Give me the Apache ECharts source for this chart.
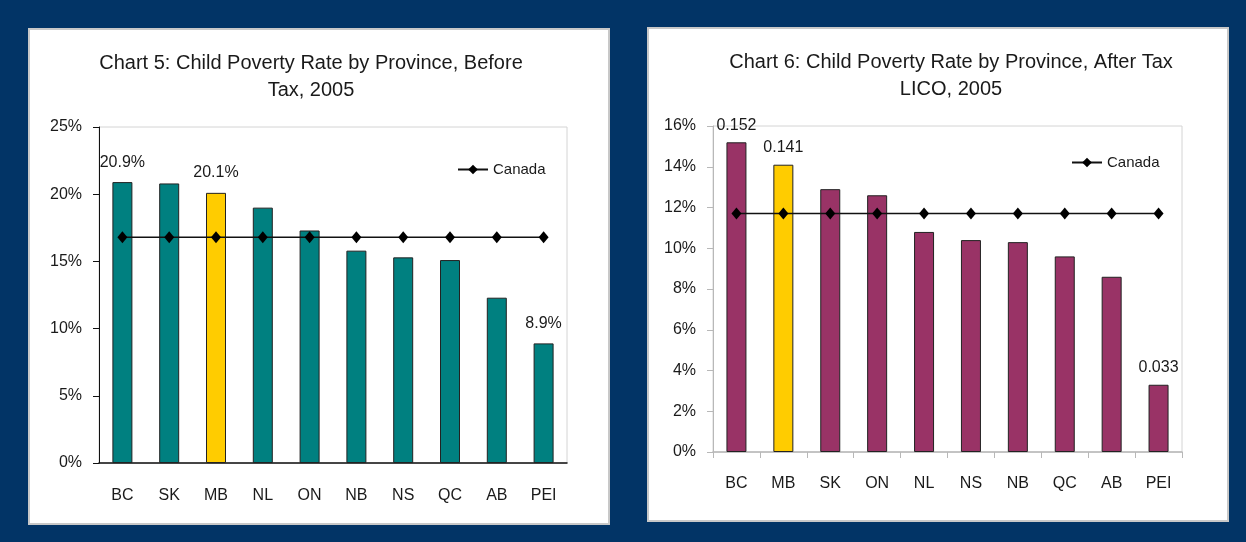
<!DOCTYPE html>
<html>
<head>
<meta charset="utf-8">
<script src="https://cdn.jsdelivr.net/npm/echarts@6/dist/echarts.min.js"></script>
<style>
html, body { margin: 0; padding: 0; width: 1246px; height: 542px; background: #023466; overflow: hidden; }
.panel { position: absolute; background: #fff; box-shadow: inset 0 0 0 2px #c8c8c8; }
.chart { position: absolute; left: 0; top: 0; width: 100%; height: 100%; }
</style>
</head>
<body>
<div class="panel" style="left:28px;top:28px;width:582px;height:497px;"><div class="chart" id="chart5"></div></div>
<div class="panel" style="left:647px;top:27px;width:582px;height:495px;"><div class="chart" id="chart6"></div></div>
<script>
// Chart 5 - before tax
var provBefore = ["BC", "SK", "MB", "NL", "ON", "NB", "NS", "QC", "AB", "PEI"];
var rateBefore = [20.9, 20.8, 20.1, 19.0, 17.3, 15.8, 15.3, 15.1, 12.3, 8.9];
var canadaBefore = [16.8, 16.8, 16.8, 16.8, 16.8, 16.8, 16.8, 16.8, 16.8, 16.8];
var labeledBefore = ["BC", "MB", "PEI"];

// Chart 6 - after tax LICO
var provAfter = ["BC", "MB", "SK", "ON", "NL", "NS", "NB", "QC", "AB", "PEI"];
var rateAfter = [15.2, 14.1, 12.9, 12.6, 10.8, 10.4, 10.3, 9.6, 8.6, 3.3];
var canadaAfter = [11.7, 11.7, 11.7, 11.7, 11.7, 11.7, 11.7, 11.7, 11.7, 11.7];
var labeledAfter = ["BC", "MB", "PEI"];

var FONT = "Arial, 'Liberation Sans', sans-serif";
var TXT = "#1a1a1a";

function makeOption(c) {
    var barData = c.rates.map(function (v, i) {
        var p = c.provs[i];
        return {
            value: v,
            itemStyle: { color: p === "MB" ? "#FFCC00" : c.barColor },
            label: { show: c.labeled.indexOf(p) >= 0 }
        };
    });
    return {
        animation: false,
        title: {
            text: c.title,
            left: c.titleX,
            top: 17,
            textAlign: "center",
            textStyle: { fontFamily: FONT, fontSize: 20, fontWeight: "normal", color: TXT, lineHeight: 27 }
        },
        legend: {
            data: ["Canada"],
            left: c.legendX,
            top: c.legendY,
            itemWidth: 30,
            itemHeight: 12,
            itemGap: 4,
            textStyle: { fontFamily: FONT, fontSize: 15, color: TXT }
        },
        grid: {
            left: c.grid[0], top: c.grid[1], width: c.grid[2], height: c.grid[3],
            show: true, borderColor: "#d4d4d4", borderWidth: 1, backgroundColor: "transparent"
        },
        xAxis: {
            type: "category",
            data: c.provs,
            axisLine: { lineStyle: { color: c.axisColor, width: c.xLineWidth } },
            axisTick: { show: c.xTicks, length: 6, lineStyle: { color: c.axisColor } },
            axisLabel: { fontFamily: FONT, fontSize: 16, color: TXT, margin: c.xMargin }
        },
        yAxis: {
            type: "value",
            min: 0,
            max: c.yMax,
            interval: c.yStep,
            splitLine: { show: false },
            axisLine: { show: true, lineStyle: { color: c.axisColor } },
            axisTick: { show: true, length: 6, lineStyle: { color: c.axisColor } },
            axisLabel: { fontFamily: FONT, fontSize: 16, color: TXT, margin: 17, formatter: "{value}%" }
        },
        series: [{
            name: "rate",
            type: "bar",
            barWidth: 20,
            data: barData,
            itemStyle: { borderColor: "#222", borderWidth: 1 },
            label: {
                position: "top",
                distance: c.labelDist,
                fontFamily: FONT, fontSize: 16, color: TXT,
                formatter: c.labelFmt
            }
        }, {
            name: "Canada",
            type: "line",
            data: c.canada,
            symbol: "diamond",
            symbolSize: [10, 12],
            itemStyle: { color: "#000" },
            lineStyle: { color: "#111", width: 1.5 },
            z: 5
        }]
    };
}

var chart5 = echarts.init(document.getElementById("chart5"));
chart5.setOption(makeOption({
    title: "Chart 5: Child Poverty Rate by Province, Before\nTax, 2005",
    titleX: 278,
    provs: provBefore, rates: rateBefore, canada: canadaBefore, labeled: labeledBefore,
    barColor: "#008080",
    grid: [71, 99, 468, 336],
    yMax: 25, yStep: 5,
    axisColor: "#111", xLineWidth: 1.5, xTicks: false, xMargin: 25,
    legendX: 424, legendY: 129,
    labelDist: 12,
    labelFmt: function (p) { return p.value.toFixed(1) + "%"; }
}));

var chart6 = echarts.init(document.getElementById("chart6"));
chart6.setOption(makeOption({
    title: "Chart 6: Child Poverty Rate by Province, After Tax\nLICO, 2005",
    titleX: 299,
    provs: provAfter, rates: rateAfter, canada: canadaAfter, labeled: labeledAfter,
    barColor: "#993366",
    grid: [66, 99, 469, 326],
    yMax: 16, yStep: 2,
    axisColor: "#b8b8b8", xLineWidth: 1.5, xTicks: true, xMargin: 24,
    legendX: 419, legendY: 123,
    labelDist: 9,
    labelFmt: function (p) { return (p.value / 100).toFixed(3); }
}));

window.addEventListener("resize", function () {
    chart5.resize();
    chart6.resize();
});
</script>
</body>
</html>
